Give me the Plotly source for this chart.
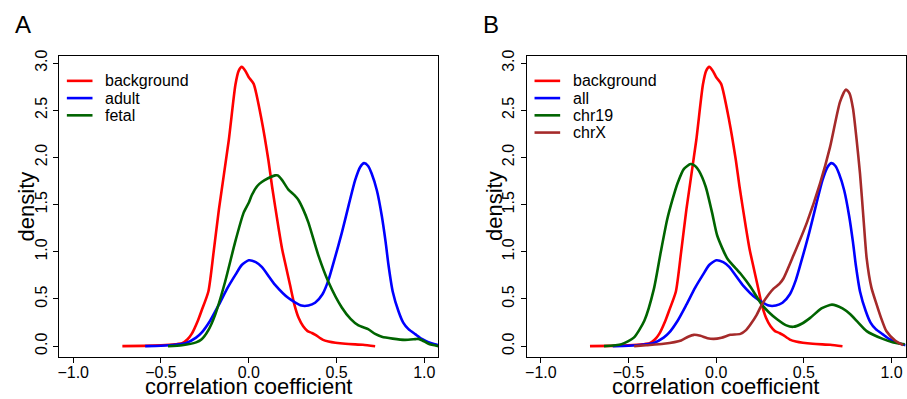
import plotly.graph_objects as go

# ---------------- data ----------------
bg_x = [-0.72, -0.60, -0.50, -0.42, -0.38, -0.35, -0.325, -0.29, -0.27, -0.23, -0.20, -0.17,
        -0.114, -0.076, -0.057, -0.04, -0.02, 0.0, 0.028, 0.074, 0.112, 0.133, 0.17, 0.19,
        0.21, 0.235, 0.26, 0.284, 0.31, 0.335, 0.36, 0.38, 0.42, 0.454, 0.55, 0.65, 0.72]
bg_y = [0.0, 0.003, 0.01, 0.02, 0.03, 0.07, 0.13, 0.27, 0.37, 0.58, 1.0, 1.45,
        2.18, 2.77, 2.92, 2.96, 2.92, 2.85, 2.78, 2.39, 1.97, 1.69, 1.25, 1.03,
        0.86, 0.65, 0.44, 0.30, 0.21, 0.16, 0.14, 0.12, 0.07, 0.05, 0.025, 0.015, 0.0]

adult_x = [-0.59, -0.50, -0.42, -0.36, -0.30, -0.27, -0.22, -0.17, -0.12, -0.078, -0.04, 0.0,
           0.04, 0.074, 0.15, 0.226, 0.30, 0.34, 0.378, 0.42, 0.454, 0.49, 0.53, 0.57, 0.606,
           0.635, 0.657, 0.68, 0.70, 0.73, 0.758, 0.78, 0.796, 0.82, 0.853, 0.88, 0.91, 0.95,
           0.986, 1.02, 1.06, 1.08]
adult_y = [0.0, 0.005, 0.015, 0.03, 0.09, 0.14, 0.27, 0.44, 0.62, 0.75, 0.86, 0.91,
           0.89, 0.84, 0.65, 0.51, 0.43, 0.43, 0.46, 0.55, 0.70, 0.93, 1.2, 1.50, 1.76,
           1.90, 1.94, 1.91, 1.83, 1.65, 1.38, 1.10, 0.86, 0.58, 0.37, 0.25, 0.18, 0.125,
           0.077, 0.045, 0.02, 0.01]

fetal_x = [-0.46, -0.38, -0.30, -0.27, -0.23, -0.19, -0.135, -0.078, -0.03, 0.0, 0.017, 0.05,
           0.074, 0.11, 0.15, 0.165, 0.19, 0.226, 0.26, 0.283, 0.31, 0.34, 0.397, 0.454, 0.53,
           0.58, 0.625, 0.68, 0.72, 0.758, 0.82, 0.89, 0.95, 0.967, 0.99, 1.024, 1.08]
fetal_y = [0.0, 0.01, 0.04, 0.07, 0.17, 0.34, 0.68, 1.10, 1.41, 1.52, 1.60, 1.70,
           1.74, 1.78, 1.81, 1.81, 1.76, 1.66, 1.60, 1.55, 1.45, 1.31, 0.96, 0.68, 0.41,
           0.29, 0.22, 0.18, 0.13, 0.10, 0.08, 0.067, 0.075, 0.077, 0.06, 0.025, 0.0]

all_x = adult_x
all_y = adult_y

chr19_x = [-0.64, -0.54, -0.47, -0.41, -0.355, -0.316, -0.28, -0.25, -0.22, -0.184, -0.146,
           -0.12, -0.099, -0.06, -0.023, 0.006, 0.063, 0.138, 0.195, 0.26, 0.30, 0.347, 0.40,
           0.44, 0.49, 0.536, 0.60, 0.66, 0.72, 0.763, 0.81, 0.858, 0.95, 1.01, 1.075]
chr19_y = [0.0, 0.02, 0.09, 0.27, 0.61, 1.0, 1.34, 1.55, 1.73, 1.88, 1.93,
           1.91, 1.86, 1.69, 1.41, 1.17, 0.93, 0.77, 0.63, 0.44, 0.36, 0.285, 0.22,
           0.205, 0.24, 0.30, 0.40, 0.44, 0.40, 0.34, 0.25, 0.16, 0.077, 0.04, 0.02]

chrX_x = [-0.468, -0.40, -0.30, -0.20, -0.16, -0.127, -0.09, -0.05, -0.014, 0.03, 0.08, 0.138,
          0.17, 0.195, 0.23, 0.26, 0.30, 0.327, 0.36, 0.384, 0.44, 0.517, 0.593, 0.649, 0.706,
          0.74, 0.76, 0.78, 0.80, 0.82, 0.84, 0.858, 0.885, 0.915, 0.94, 0.97, 1.02, 1.066]
chrX_y = [0.0, 0.01, 0.025, 0.06, 0.10, 0.12, 0.11, 0.085, 0.077, 0.09, 0.12, 0.13,
          0.17, 0.23, 0.33, 0.44, 0.55, 0.61, 0.66, 0.72, 0.96, 1.31, 1.73, 2.11, 2.59,
          2.72, 2.68, 2.52, 2.20, 1.83, 1.35, 0.93, 0.62, 0.44, 0.30, 0.16, 0.06, 0.01]

x_ticks = [-1.0, -0.5, 0.0, 0.5, 1.0]
y_ticks = [0.0, 0.5, 1.0, 1.5, 2.0, 2.5, 3.0]

panel_a = [("background", bg_x, bg_y, "#ff0000"),
           ("adult", adult_x, adult_y, "#0000ff"),
           ("fetal", fetal_x, fetal_y, "#006400")]
panel_b = [("background", bg_x, bg_y, "#ff0000"),
           ("all", all_x, all_y, "#0000ff"),
           ("chr19", chr19_x, chr19_y, "#006400"),
           ("chrX", chrX_x, chrX_y, "#a52a2a")]

# ---------------- layout helpers ----------------
W, H = 907, 399
FONT = "Liberation Sans, Arial, Helvetica, sans-serif"

def px(x):
    return x / W

def py(y):
    return 1 - y / H

fig = go.Figure()

for name, xs, ys, col in panel_a:
    fig.add_trace(go.Scatter(x=xs, y=ys, mode="lines", name=name, showlegend=False,
                             line=dict(color=col, width=2.6, shape="spline", smoothing=0.6),
                             xaxis="x", yaxis="y"))
for name, xs, ys, col in panel_b:
    fig.add_trace(go.Scatter(x=xs, y=ys, mode="lines", name=name, showlegend=False,
                             line=dict(color=col, width=2.6, shape="spline", smoothing=0.6),
                             xaxis="x2", yaxis="y2"))

ydom = [py(356.7), py(50.5)]
xdomA = [px(57.3), px(437.3)]
off = 468.7
xdomB = [px(57.3 + off), px(905.6)]

axis_common = dict(showline=True, mirror=True, linecolor="black", linewidth=1,
                   ticks="outside", ticklen=5, tickcolor="black", tickwidth=1,
                   showgrid=False, zeroline=False,
                   tickfont=dict(family=FONT, size=16, color="black"))

xax = dict(axis_common, range=[-1.08, 1.08], tickvals=x_ticks, tickformat=".1f",
           ticklabelstandoff=-5)
yax = dict(axis_common, range=[-0.1184, 3.0784], tickvals=y_ticks, tickformat=".1f",
           tickangle=-90)

annotations = []
shapes = []
for i, (panel, label) in enumerate([(panel_a, "A"), (panel_b, "B")]):
    o = off * i
    annotations.append(dict(text=label, x=px(21.5 + o), y=py(18.5), xref="paper", yref="paper",
                            showarrow=False, xanchor="center", yanchor="middle",
                            font=dict(family=FONT, size=24, color="black")))
    annotations.append(dict(text="density", x=px(25.5 + o), y=py(203), xref="paper",
                            yref="paper", showarrow=False, textangle=-90,
                            xanchor="center", yanchor="middle",
                            font=dict(family=FONT, size=22, color="black")))
    annotations.append(dict(text="correlation coefficient", x=px(247.3 + o), y=py(386.5),
                            xref="paper", yref="paper", showarrow=False,
                            xanchor="center", yanchor="middle",
                            font=dict(family=FONT, size=22, color="black")))
    for j, (name, xs, ys, col) in enumerate(panel):
        yy = 76 + 17.5 * j
        shapes.append(dict(type="line", xref="paper", yref="paper",
                           x0=px(65 + o), x1=px(90.7 + o), y0=py(yy), y1=py(yy),
                           line=dict(color=col, width=2.6)))
        annotations.append(dict(text=name, x=px(101.7 + o), y=py(yy), xref="paper",
                                yref="paper", showarrow=False, xanchor="left",
                                yanchor="middle",
                                font=dict(family=FONT, size=16, color="black")))

fig.update_layout(
    width=W, height=H,
    margin=dict(l=0, r=0, t=0, b=0),
    paper_bgcolor="white", plot_bgcolor="white",
    xaxis=dict(xax, domain=xdomA, anchor="y"),
    yaxis=dict(yax, domain=ydom, anchor="x"),
    xaxis2=dict(xax, domain=xdomB, anchor="y2"),
    yaxis2=dict(yax, domain=ydom, anchor="x2"),
    annotations=annotations,
    shapes=shapes,
    showlegend=False,
)

fig.write_html("out.html")
